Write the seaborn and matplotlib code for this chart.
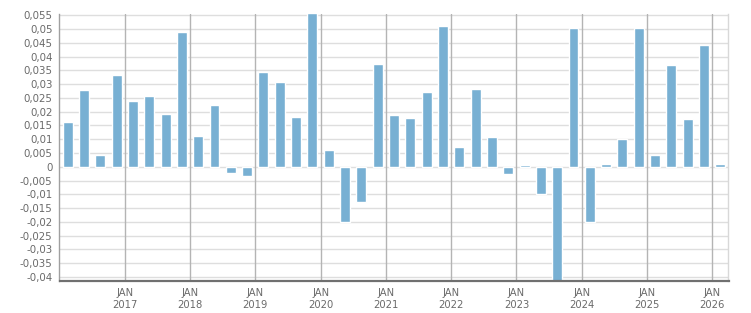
import matplotlib
matplotlib.use("Agg")
import matplotlib.pyplot as plt
import seaborn as sns
import numpy as np
import pandas as pd
from matplotlib.ticker import FixedLocator, FuncFormatter

# Quarterly data 2016Q1 .. 2026Q1
quarters = [f"{y}Q{q}" for y in range(2016, 2027) for q in range(1, 5)][:41]
values = [
    0.0163, 0.0278, 0.0043, 0.0332,
    0.0238, 0.0256, 0.0191, 0.0491,
    0.0112, 0.0224, -0.0022, -0.0032,
    0.0346, 0.0307, 0.0180, 0.0560,
    0.0061, -0.0202, -0.0129, 0.0372,
    0.0187, 0.0177, 0.0271, 0.0513,
    0.0072, 0.0281, 0.0108, -0.0026,
    0.0007, -0.0098, -0.0425, 0.0505,
    -0.0199, 0.0010, 0.0101, 0.0505,
    0.0043, 0.0368, 0.0173, 0.0444,
    0.0010,
]
year_labels = ["JAN\n2017", "JAN\n2018", "JAN\n2019", "JAN\n2020", "JAN\n2021",
               "JAN\n2022", "JAN\n2023", "JAN\n2024", "JAN\n2025", "JAN\n2026"]
y_ticks = [-0.04, -0.035, -0.03, -0.025, -0.02, -0.015, -0.01, -0.005, 0,
           0.005, 0.01, 0.015, 0.02, 0.025, 0.03, 0.035, 0.04, 0.045, 0.05, 0.055]

df = pd.DataFrame({"quarter": quarters, "value": values})

sns.set_style("white")
plt.rcParams['font.family'] = ['DejaVu Sans']

fig = plt.figure(figsize=(7.51, 3.13), dpi=100)
W, H = 751, 313
left, right, top, bottom = 59.5, 728.5, 13.7, 280.7
ax = fig.add_axes([left / W, (H - bottom) / H, (right - left) / W, (bottom - top) / H])

sns.barplot(data=df, x="quarter", y="value", order=quarters, color="#78b0d3",
            saturation=1, width=0.61, ax=ax, zorder=3)

ax.set_xlim(-0.5, len(quarters) - 0.5)
ax.set_ylim(-0.0414, 0.0556)

# y axis
ax.yaxis.set_major_locator(FixedLocator(y_ticks))

def fmt(v, pos):
    if abs(v) < 1e-9:
        return "0"
    s = f"{v:.3f}".rstrip("0").rstrip(".")
    return s.replace(".", ",")

ax.yaxis.set_major_formatter(FuncFormatter(fmt))
ax.grid(axis="y", color="#dedede", linewidth=1, zorder=0)

# x axis: major at January boundaries, minor at each quarter boundary
major_pos = [i - 0.5 for i in range(4, len(quarters), 4)]
minor_pos = [i - 0.5 for i in range(1, len(quarters)) if i % 4 != 0]
ax.xaxis.set_major_locator(FixedLocator(major_pos))
ax.xaxis.set_minor_locator(FixedLocator(minor_pos))
ax.set_xticklabels(year_labels)
for xp in major_pos:
    ax.axvline(xp, color="#b4b4b4", linewidth=1, zorder=1)

ax.set_xlabel("")
ax.set_ylabel("")

ax.spines["top"].set_visible(False)
ax.spines["right"].set_color("#d8d8d8")
ax.spines["right"].set_linewidth(1)
ax.spines["left"].set_color("#a0a0a0")
ax.spines["left"].set_linewidth(1)
ax.spines["bottom"].set_color("#707070")
ax.spines["bottom"].set_linewidth(1.6)
ax.spines["bottom"].set_zorder(5)

ax.tick_params(axis="y", which="major", length=3, width=1, color="#a0a0a0",
               labelsize=7.4, labelcolor="#6a6a6a", pad=2)
ax.tick_params(axis="x", which="major", length=4, width=1, color="#909090",
               labelsize=7.2, labelcolor="#6a6a6a", pad=1.5)
ax.tick_params(axis="x", which="minor", length=2.5, width=1, color="#909090")
for lbl in ax.get_xticklabels():
    lbl.set_linespacing(1.25)

fig.savefig("out.png", dpi=100)
